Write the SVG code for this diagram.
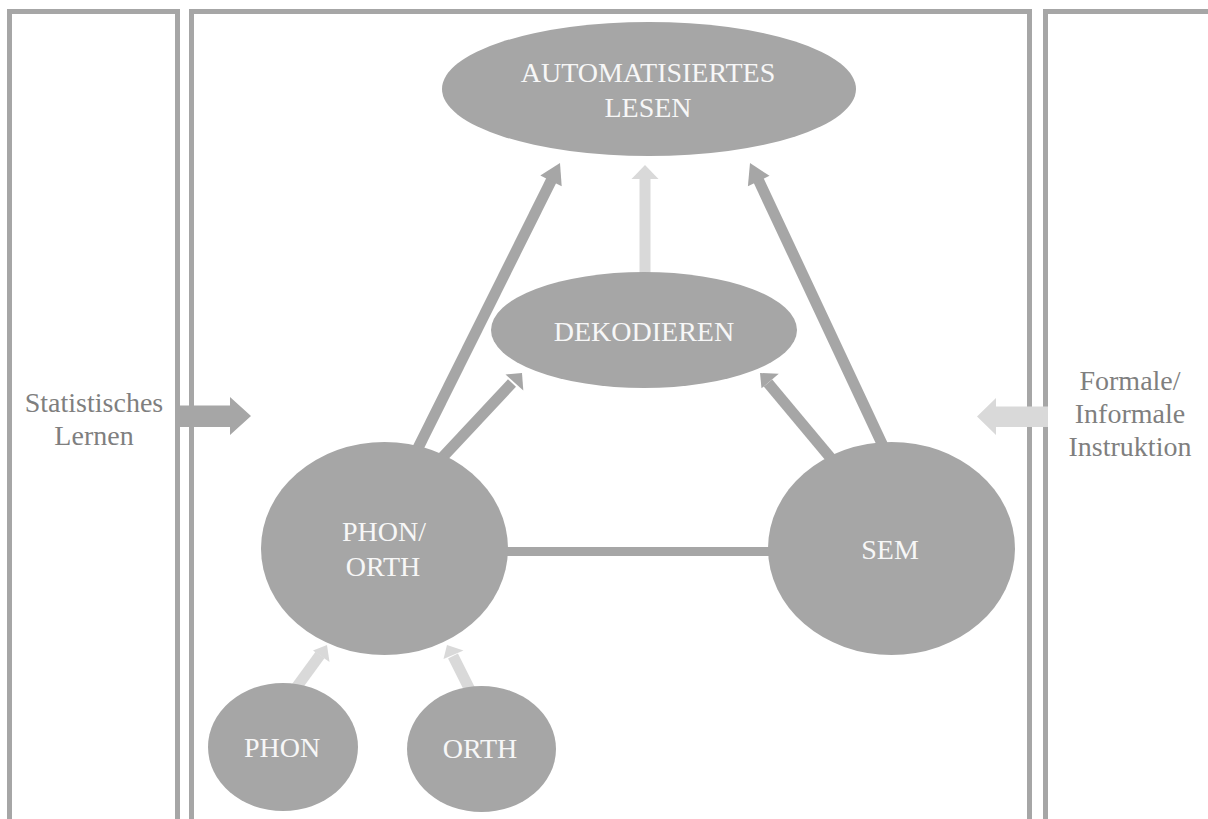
<svg xmlns="http://www.w3.org/2000/svg" width="1208" height="819" viewBox="0 0 1208 819">
<style>
.frame{fill:none;stroke:#a6a6a6;stroke-width:5}
.node{fill:#a6a6a6}
text{font-family:Liberation Serif, Times New Roman, Times, Noto Serif, DejaVu Serif, serif;font-size:28px;text-anchor:middle}
.nt{fill:#f7f7f7}
.st{fill:#7f7f7f}
.dk{stroke:#a6a6a6;stroke-width:11;fill:none}
.lt{stroke:#d9d9d9;stroke-width:11;fill:none}
.dkf{fill:#a6a6a6}
.ltf{fill:#d9d9d9}
</style>
<rect width="1208" height="819" fill="#ffffff"/>
<g id="frames">
<path class="frame" d="M9.5 819 V11.5 H177.5 V819"/>
<path class="frame" d="M191.5 819 V11.5 H1029.5 V819"/>
<path class="frame" d="M1045.5 819 V11.5 H1210"/>
</g>
<g id="connectors">
<line x1="505" y1="551.5" x2="772" y2="551.5" stroke="#a6a6a6" stroke-width="9"/>
<line class="lt" x1="645" y1="290" x2="645" y2="177" stroke-width="12"/>
<polygon class="ltf" points="645,165 658.5,179 631.5,179"/>
<line class="dk" x1="417" y1="450" x2="553" y2="177"/>
<polygon class="dkf" points="560,163 561.7,186.3 540.3,175.5"/>
<line class="dk" x1="884" y1="448" x2="757" y2="177"/>
<polygon class="dkf" points="750,163 769.5,175.8 747.9,186.2"/>
<line class="dk" x1="440" y1="460" x2="512" y2="383" stroke-width="10"/>
<polygon class="dkf" points="522,373 523.3,390.5 505.5,374.5"/>
<line class="dk" x1="834" y1="462" x2="768" y2="383" stroke-width="10"/>
<polygon class="dkf" points="760,373 778.8,373.8 761.5,388.3"/>
<line class="lt" x1="293" y1="692" x2="320" y2="655" stroke-width="10"/>
<polygon class="ltf" points="327,645 329.5,662 313,650.5"/>
<line class="lt" x1="472" y1="694" x2="453" y2="656" stroke-width="10"/>
<polygon class="ltf" points="447,645 463.5,650.5 443.5,659"/>
<polygon class="dkf" points="179,405.5 230,405.5 230,397 251,416 230,435 230,427 179,427"/>
<polygon class="ltf" points="1048,406.5 996,406.5 996,398 977,416.5 996,435 996,427 1048,427"/>
</g>
<g id="node-auto">
<ellipse class="node" cx="649" cy="89" rx="207" ry="67"/>
<text class="nt" x="648" y="82" font-family="Liberation Serif">AUTOMATISIERTES</text>
<text class="nt" x="648" y="117" font-family="Liberation Serif">LESEN</text>
</g>
<g id="node-dekodieren">
<ellipse class="node" cx="644" cy="330" rx="153" ry="58"/>
<text class="nt" x="644" y="341">DEKODIEREN</text>
</g>
<g id="node-phonorth">
<ellipse class="node" cx="384.5" cy="548.5" rx="123.5" ry="106.5"/>
<text class="nt" x="384" y="541">PHON/</text>
<text class="nt" x="383" y="576">ORTH</text>
</g>
<g id="node-sem">
<ellipse class="node" cx="891.5" cy="548.5" rx="123.5" ry="106.5"/>
<text class="nt" x="890" y="559">SEM</text>
</g>
<g id="node-phon">
<ellipse class="node" cx="283" cy="747" rx="75" ry="64"/>
<text class="nt" x="282" y="757">PHON</text>
</g>
<g id="node-orth">
<ellipse class="node" cx="481.5" cy="749" rx="74.5" ry="63"/>
<text class="nt" x="480" y="758">ORTH</text>
</g>
<g id="label-statistisch">
<text class="st" x="94" y="412">Statistisches</text>
<text class="st" x="94" y="445">Lernen</text>
</g>
<g id="label-instruktion">
<text class="st" x="1130" y="390">Formale/</text>
<text class="st" x="1130" y="423">Informale</text>
<text class="st" x="1130" y="456">Instruktion</text>
</g>
</svg>
